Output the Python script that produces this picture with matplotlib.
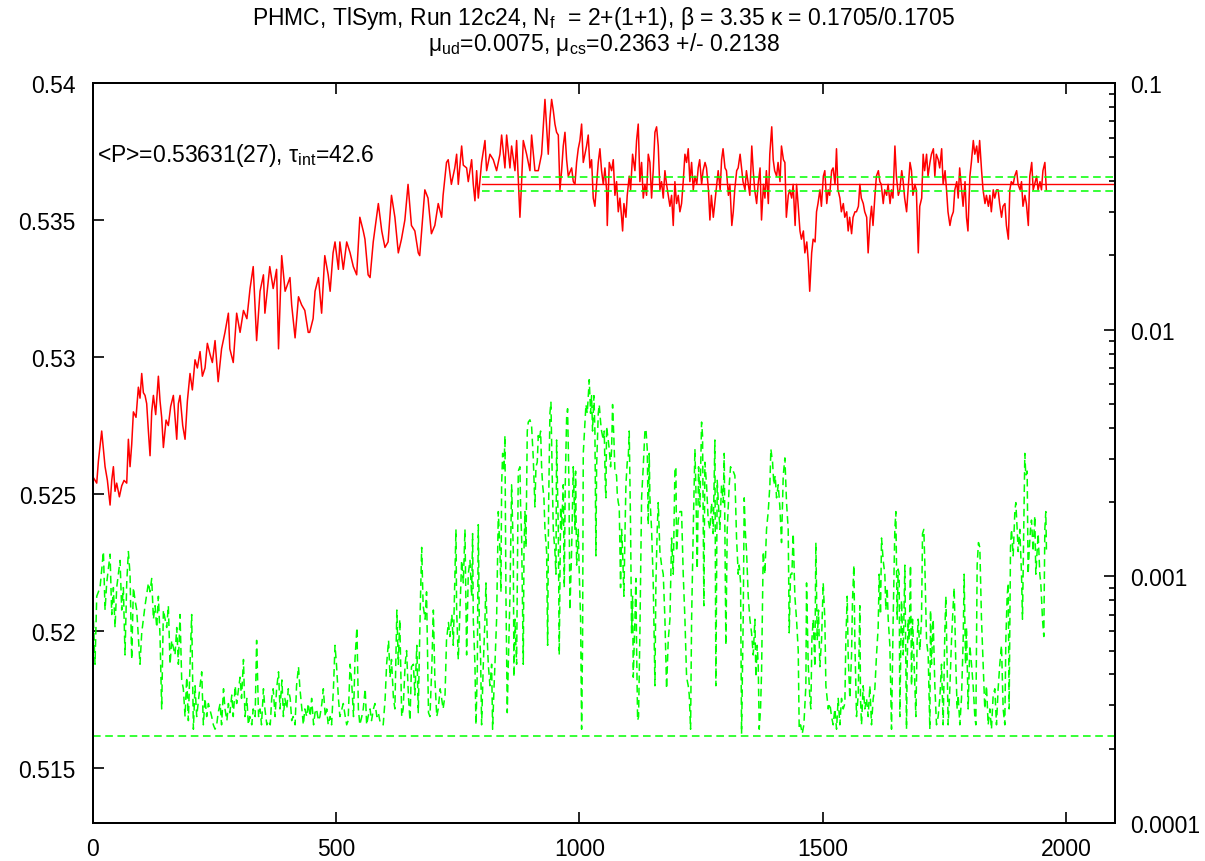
import numpy as np
import matplotlib
matplotlib.use('Agg')
import matplotlib.pyplot as plt
from matplotlib.ticker import FixedLocator, FixedFormatter, LogLocator, NullFormatter

plt.rcParams['font.family'] = ['Liberation Sans', 'DejaVu Sans']
plt.rcParams['font.size'] = 16.5
plt.rcParams['mathtext.fontset'] = 'custom'
plt.rcParams['mathtext.rm'] = 'Liberation Sans'
plt.rcParams['mathtext.it'] = 'Liberation Sans:italic'

# plaquette history (left axis)
red_x = [0, 1.7, 8.6, 12, 18.8, 25.7, 30.5, 36, 39.4, 42.8, 46.2, 49.6, 55.1, 59.9, 64.7, 70.2, 73.6, 77, 80.4, 83.9,
         89.3, 94.1, 97.5, 101, 104.4, 107.8, 111.2, 114.7, 118.1, 121.5, 125, 129.7, 135.2, 138.6, 142, 145.5, 151,
         155.7, 160.5, 166, 169.4, 172.9, 176.3, 179.7, 185.2, 190, 194.8, 200.2, 205, 210.5, 215.3, 220.8, 225.6, 231,
         235.8, 241.3, 246.1, 251.6,
         258, 265, 272, 279, 282, 289, 296, 303, 310, 317, 323.5, 330, 337, 344, 351, 354, 364, 371, 378, 382, 388.5,
         395.5, 405.5, 409, 416, 423, 429.5, 436, 443, 446, 453, 457, 464, 470.5, 477, 484, 488, 494,
         498, 505, 508, 515, 522, 529, 535.6, 542.5, 549, 556, 559.5, 566, 570, 576.5, 587, 594, 600.6, 607, 614, 621,
         628, 634.5, 641.5, 648, 655, 662, 669, 672, 682.5, 689, 696, 703, 710, 717, 720, 727, 730.5, 737, 744,
         747.8, 751.2, 758.1, 761.5, 768.3, 771.7, 775.2, 778.6, 782, 785.4, 788.9, 792.3, 799.1, 806, 809.4, 816.2,
         823.1, 829.9, 836.8, 840.2, 847, 850.5, 857.3, 860.7, 867.6, 871, 877.8, 881.3, 884.7, 891.5, 898.4, 901.8,
         908.6, 915.5, 922.3, 929.2, 932.6, 936, 939.4, 942.9, 946.3, 949.7, 953.1, 956.6, 960, 963.4, 966.8, 970.3,
         973.7, 977.1, 984, 987.4,
         990.8, 994.2, 997.6, 1001, 1004.5, 1007.9, 1011.3, 1014.7, 1018.1, 1021.6, 1025, 1028.4, 1031.8, 1035.3,
         1038.7, 1042.1, 1045.5, 1049, 1052.4, 1055.8, 1057.2, 1061.3, 1066.1, 1069.5, 1072.9, 1076.3, 1079.8, 1083.2,
         1086.6, 1088.7, 1091.4, 1095.5, 1098.2, 1102.3, 1105.1, 1109.2, 1114, 1117.4, 1120.8, 1124.2, 1127.7, 1131.1,
         1134.5, 1137.9, 1141.4, 1144.8, 1148.2, 1151.6, 1155.1, 1158.5, 1161.9, 1165.3, 1168.7, 1172.2, 1175.6, 1179,
         1182.4, 1185.9, 1189.3, 1192.7, 1196.1, 1199.5, 1203, 1206.4, 1209.8, 1213.2, 1216.7, 1220.1, 1223.5, 1226.9,
         1230.4, 1233.8, 1237.2,
         1241, 1244, 1247, 1251, 1254, 1258, 1261, 1265, 1268, 1271, 1275, 1278, 1282, 1285, 1289, 1292, 1295, 1299,
         1302, 1306, 1309, 1313, 1316, 1319, 1323, 1326, 1330, 1333, 1336, 1340, 1343, 1347, 1350, 1354, 1357, 1360,
         1364, 1367, 1371, 1374, 1378, 1381, 1384, 1388, 1391, 1395, 1398, 1401, 1405, 1408, 1412, 1415, 1419, 1422,
         1425, 1429, 1432, 1436, 1439, 1443, 1446, 1449, 1453, 1456, 1460, 1463, 1467, 1470, 1473, 1477, 1480, 1484,
         1487, 1490, 1494, 1497, 1501, 1504, 1508, 1511, 1514, 1518, 1521, 1525, 1528, 1531, 1535, 1538, 1542, 1545,
         1549, 1552, 1555, 1559, 1562, 1566, 1569, 1573, 1576, 1579, 1583, 1586, 1590, 1593, 1597, 1600, 1603, 1607,
         1610, 1614, 1617, 1620, 1624, 1627, 1631, 1634, 1638, 1641, 1644, 1648, 1651, 1655, 1658, 1662, 1665, 1668,
         1672, 1675, 1679, 1682, 1685, 1689, 1692, 1696, 1699, 1703, 1706, 1709, 1713, 1716, 1720, 1723, 1727, 1730,
         1733, 1737, 1740, 1744, 1747, 1751, 1754, 1757, 1761, 1764, 1768, 1771, 1775, 1778, 1781, 1785, 1788, 1792,
         1795, 1798, 1802, 1805, 1809, 1812, 1816, 1819, 1822, 1826, 1829, 1833, 1836, 1840, 1843, 1846, 1850, 1853,
         1857, 1860, 1863, 1867, 1870, 1874, 1877, 1881, 1884, 1887, 1891, 1894, 1898, 1901, 1905, 1908, 1911, 1915,
         1918, 1922, 1925, 1929, 1932, 1935, 1939, 1942, 1946, 1949, 1952, 1956, 1959]
red_y = [.5258, .5256, .5254, .5262, .5273, .5260, .5255, .5246, .5255, .5260, .5251, .5254, .5249, .5253, .5255,
         .5254, .5270, .5260, .5268, .5280, .5278, .5289, .5285, .5294, .5287, .5286, .5283, .5273, .5264, .5280,
         .5286, .5279, .5293, .5284, .5278, .5267, .5277, .5275, .5282, .5286, .5278, .5270, .5283, .5286, .5275,
         .5270, .5284, .5294, .5288, .5299, .5296, .5302, .5293, .5296, .5305, .5301, .5298, .5306,
         .5291, .5303, .5309, .5316, .5303, .5298, .5316, .5309, .5317, .5314, .5325, .5333, .5306, .5324, .5330,
         .5316, .5333, .5325, .5332, .5303, .5337, .5324, .5329, .5319, .5307, .5322, .5319, .5317, .5309, .5309,
         .5314, .5324, .5329, .5316, .5337, .5330, .5324, .5338,
         .5342, .5332, .5342, .5332, .5342, .5338, .5333, .5330, .5351, .5346, .5343, .5330, .5329, .5342, .5356,
         .5346, .5340, .5342, .5359, .5351, .5338, .5343, .5350, .5363, .5348, .5346, .5338, .5337, .5361, .5358,
         .5345, .5348, .5356, .5351, .5359, .5371, .5372, .5363, .5369,
         .5374, .5363, .5377, .5370, .5369, .5364, .5368, .5372, .5363, .5357, .5368, .5358, .5371, .5379, .5368,
         .5374, .5372, .5368, .5374, .5381, .5369, .5381, .5369, .5377, .5368, .5379, .5351, .5364, .5379, .5374,
         .5368, .5381, .5368, .5368, .5374, .5394, .5384, .5374, .5387, .5394, .5390, .5385, .5382, .5381, .5361,
         .5368, .5377, .5382, .5372, .5366, .5369, .5364,
         .5363, .5371, .5376, .5379, .5385, .5371, .5374, .5377, .5381, .5369, .5372, .5358, .5355, .5363, .5371,
         .5376, .5368, .5363, .5369, .5361, .5348, .5371, .5368, .5372, .5359, .5364, .5353, .5358, .5351, .5346,
         .5356, .5351, .5359, .5366, .5361, .5374, .5368, .5379, .5385, .5364, .5371, .5358, .5363, .5359, .5374,
         .5371, .5358, .5368, .5382, .5384, .5377, .5361, .5364, .5358, .5368, .5363, .5359, .5355, .5359, .5348,
         .5364, .5356, .5359, .5353, .5356, .5364, .5374, .5371, .5376, .5364, .5371, .5361, .5366,
         .5363, .5369, .5372, .5363, .5368, .5371, .5369, .5361, .5350, .5359, .5351, .5356, .5363, .5368, .5361,
         .5372, .5376, .5369, .5368, .5359, .5363, .5348, .5353, .5361, .5368, .5369, .5374, .5369, .5364, .5361,
         .5368, .5363, .5359, .5377, .5368, .5361, .5356, .5363, .5369, .5350, .5363, .5358, .5368, .5356, .5374,
         .5384, .5372, .5368, .5366, .5371, .5364, .5377, .5372, .5371, .5351, .5359, .5361, .5358, .5363, .5348,
         .5363, .5356, .5346, .5343, .5346, .5338, .5342, .5335, .5324, .5338, .5343, .5342,
         .5353, .5356, .5361, .5355, .5366, .5368, .5356, .5361, .5359, .5368, .5369, .5363, .5376, .5361, .5358,
         .5353, .5356, .5351, .5353, .5346, .5351, .5345, .5351, .5353, .5353, .5355, .5363, .5358, .5356, .5353,
         .5351, .5338, .5350, .5355, .5348, .5359, .5366, .5368, .5364, .5363, .5356, .5361, .5359, .5363, .5356,
         .5361, .5358, .5377, .5366, .5359, .5361, .5368, .5364, .5358, .5353, .5361, .5371, .5368, .5359, .5363,
         .5361, .5338, .5355, .5358, .5374, .5368, .5374, .5366, .5371, .5374, .5376, .5366,
         .5374, .5372, .5369, .5376, .5363, .5368, .5361, .5353, .5348, .5351, .5353, .5361, .5364, .5358, .5369,
         .5361, .5355, .5364, .5351, .5346, .5366, .5371, .5379, .5374, .5377, .5371, .5379, .5368, .5361, .5356,
         .5359, .5355, .5359, .5353, .5361, .5358, .5361, .5361, .5356, .5351, .5355, .5356, .5348, .5343, .5361,
         .5364, .5363, .5366, .5368, .5363, .5361, .5364, .5355, .5359, .5356, .5348, .5366, .5371, .5361, .5363,
         .5366, .5361, .5364, .5361, .5368, .5371, .5361]

# second observable (right log axis), in units of 1e-4
green_x = [0, 1.7, 5.1, 8.6, 15.4, 22.3, 25.7, 29.1, 36, 39.4, 42.8, 46.2, 49.6, 56.5, 59.9, 63.3, 66.7, 70.2, 73.6,
           77, 80.4, 83.9, 87.3, 90.7, 97.5, 101, 107.8, 114.7, 118.1, 121.5, 125, 128.4, 131.8, 135.2, 138.6, 142,
           145.5, 152.3, 155.7, 159.2, 162.6, 169.4, 172.9, 176.3, 179.7, 183.1, 186.5, 190, 193.4, 196.8, 200.2,
           203.6, 207.1, 210.5, 213.9, 220.8, 224.2, 227.6, 231, 234.4, 237.9, 244.7, 248.1, 251.6,
           255, 258, 262, 265, 269, 272, 276, 279, 282, 286, 289, 293, 296, 300, 303, 306, 310, 313, 317, 320, 323,
           327, 330, 334, 337, 341, 344, 347, 351, 354, 358, 361, 365, 368, 371, 375, 378, 382, 385, 389, 392, 395,
           399, 402, 406, 409, 412, 416, 419, 423, 426, 430, 433, 436, 440, 443, 447, 450, 454, 457, 460, 464, 467,
           471, 474, 478, 481, 484, 488, 491, 495, 498,
           501, 505, 508, 512, 515, 519, 522, 525, 529, 532, 536, 539, 543, 546, 549, 553, 556, 560, 563, 566, 570,
           573, 577, 580, 584, 587, 590, 594, 597, 601, 604, 608, 611, 614, 618, 621, 625, 628, 631, 635, 638, 642,
           645, 649, 652, 655, 659, 662, 666, 669, 673, 676, 679, 683, 686, 690, 693, 697, 700, 703, 707, 710, 714,
           717, 720, 724, 727, 731, 734, 738, 741, 744,
           746.4, 747.8, 751.2, 754.6, 758.1, 761.5, 764.9, 768.3, 771.7, 775.2, 778.6, 780.6, 782, 785.4, 787.5,
           790.2, 792.3, 794.3, 797.1, 799.1, 802.6, 806, 808, 810.8, 812.8, 816.2, 819.7, 821.7, 824.5, 826.5,
           829.9, 833.4, 836.8, 838.8, 840.2, 842.3, 845, 847, 849.1, 851.8, 853.9, 857.3, 860.7, 864.2, 865.5,
           867.6, 871, 874.4, 877.8, 879.2, 881.3, 884.7, 886.1, 888.1, 890.2, 892.9, 895, 898.4, 901.8, 905.2,
           908.6, 910.7, 913.4, 915.5, 917.5, 920.3, 922.3, 924.4, 927.1, 929.2, 932.6, 934.7, 936.7, 939.4, 941.5,
           943.6, 946.3, 949.7, 951.8, 953.1, 956.6, 958.6, 961.4, 963.4, 966.8, 968.9, 970.9, 973.7, 975.7, 978.5,
           980.5, 983.9, 987.4, 990.8,
           992.1, 994.2, 995.6, 997.6, 999.7, 1002.4, 1004.5, 1006.5, 1007.9, 1011.3, 1013.4, 1016.1, 1020.2, 1022.9,
           1025, 1027, 1029.8, 1031.8, 1033.9, 1035.3, 1038.7, 1040.7, 1043.5, 1045.5, 1049, 1051, 1053.1, 1054.4,
           1055.8, 1059.2, 1061.3, 1064, 1066.1, 1068.1, 1070.9, 1072.9, 1076.3, 1077.7, 1079.8, 1081.8, 1084.5,
           1086.6, 1088.7, 1091.4, 1093.4, 1095.5, 1098.2, 1100.3, 1102.3, 1105.1, 1107.1, 1109.2, 1110.6, 1114,
           1116, 1117.4, 1119.5, 1121.5, 1124.2, 1127.7, 1131.1, 1134.5, 1136.6, 1139.3, 1141.4, 1143.4, 1144.8,
           1148.2, 1151.6, 1155.1, 1157.1, 1159.8, 1161.9, 1165.3, 1168.7, 1172.2, 1175.6, 1179, 1182.4, 1185.9,
           1189.3, 1192.7, 1196.1, 1198.2, 1199.5, 1203, 1206.4, 1209.8, 1213.2, 1216.7, 1220.1, 1223.5, 1225.6,
           1228.3, 1230.4, 1233.8, 1237.2,
           1239.2, 1242, 1244.7, 1247.4, 1250.9, 1252.9, 1255.6, 1257.7, 1261.1, 1264.5, 1268, 1271.4, 1274.8,
           1278.2, 1280.3, 1283, 1285.8, 1288.5, 1291.9, 1295.4, 1297.4, 1299.5, 1300.8, 1303.6, 1307.7, 1310.4,
           1313.1, 1315.9, 1319.3, 1322.7, 1326.2, 1328.2, 1331, 1333, 1336.4, 1338.5, 1340.5, 1343.3, 1346.7,
           1350.1, 1353.5, 1357, 1360.4, 1362.4, 1365.2, 1367.2, 1369.3, 1372, 1374.1, 1377.5, 1380.9, 1384.3,
           1387.8, 1391.2, 1393.2, 1396.7, 1399.4, 1402.1, 1404.9, 1408.3, 1411.7, 1415.1, 1418.6, 1422, 1425.4,
           1428.8, 1430.9, 1433.6, 1436.4, 1439.1, 1442.5, 1445.9, 1449.4, 1451.4, 1454.2, 1457.6, 1461, 1465.1,
           1466.5, 1469.9, 1473.3, 1475.4, 1477.4, 1480.2, 1483.6,
           1485.6, 1488.4, 1491.1, 1493.8, 1497.3, 1500.7, 1504.1, 1506.2, 1508.9, 1511, 1514.4, 1517.8, 1521.2,
           1524.6, 1528.1, 1531.5, 1534.9, 1538.3, 1541.8, 1545.2, 1547.2, 1550, 1552, 1555.4, 1558.9, 1560.9,
           1563.7, 1565.7, 1569.1, 1572.6, 1576, 1577.3, 1579.4, 1582.8, 1586.2, 1589.7, 1593.1, 1596.5, 1599.9,
           1603.4, 1606.8, 1610.2, 1613.6, 1615.7, 1618.4, 1620.5, 1623.9, 1627.3, 1629.4, 1632.1, 1634.2, 1637.6,
           1641, 1644.4, 1647.8, 1649.9, 1652.6, 1654.7, 1656.7, 1658.1, 1661.5, 1665, 1668.4, 1671.8, 1673.2,
           1675.2, 1677.3, 1680, 1682.1, 1684.1, 1686.9, 1691, 1693.7, 1695.8, 1699.2, 1702.6, 1704.7, 1707.4,
           1709.5, 1712.9, 1716.3, 1719.7, 1721.1, 1723.1, 1726.6, 1730,
           1733.4, 1736.8, 1740.2, 1743.7, 1747.1, 1750.5, 1752.6, 1755.3, 1757.3, 1760.8, 1764.2, 1767.6, 1769.7,
           1773.1, 1775.8, 1777.9, 1781.3, 1784.7, 1788.2, 1790.2, 1793, 1795, 1798.4, 1801.8, 1805.3, 1808.7,
           1812.1, 1814.2, 1816.9, 1819.6, 1822.4, 1825.8, 1829.2, 1832.6, 1836.1, 1839.5, 1842.9, 1846.3, 1849.8,
           1853.2, 1856.6, 1860, 1863.4, 1866.9, 1870.3, 1873.7, 1875.8, 1878.5, 1880.6, 1882.6, 1885.4, 1887.4,
           1890.9, 1894.3, 1896.3, 1899.1, 1901.1, 1904.5, 1908, 1910, 1912.7, 1914.8, 1916.8, 1919.6, 1921.6,
           1923.7, 1926.4, 1928.5, 1931.9, 1935.3, 1937.4, 1940.1, 1942.2, 1945.6, 1947.6, 1951.1, 1953.8, 1955.9,
           1957.9, 1959.3]
green_e4 = [8.3, 6.7, 4.4, 8.3, 9.0, 12.6, 7.3, 9.4, 12.3, 7.0, 9.0, 6.2, 9.0, 11.6, 7.3, 9.0, 4.8, 9.4, 12.6, 10.2,
            4.6, 9.0, 8.0, 7.3, 4.4, 5.9, 7.6, 9.4, 8.65, 9.8, 6.7, 7.6, 6.2, 8.3, 5.7, 2.9, 7.3, 6.2, 7.6, 4.4, 5.5,
            4.8, 6.2, 4.4, 7.0, 3.8, 3.5, 2.7, 3.9, 2.6, 4.4, 7.0, 2.4, 3.6, 2.7, 3.6, 4.1, 2.5, 3.2, 2.7, 3.05, 2.7,
            2.5, 2.4,
            2.5, 2.8, 3.05, 2.5, 3.5, 2.9, 2.6, 3.05, 2.8, 3.3, 2.7, 3.6, 3.05, 3.5, 3.9, 3.2, 4.6, 2.7, 3.2, 2.5,
            2.7, 2.5, 2.9, 2.7, 5.5, 2.7, 2.9, 2.5, 3.5, 2.9, 2.5, 2.6, 2.5, 3.2, 3.5, 2.7, 3.5, 4.1, 2.9, 3.8, 2.7,
            3.2, 2.9, 3.5, 3.2, 2.6, 2.7, 2.5, 3.6, 4.3, 3.5, 2.9, 2.5, 2.9, 2.7, 3.05, 2.7, 3.2, 2.5, 2.8, 2.9, 2.6,
            2.7, 3.05, 3.5, 2.7, 2.9, 2.5, 2.7, 2.5, 3.6, 5.25,
            4.4, 3.2, 2.7, 2.9, 3.05, 2.7, 2.5, 2.6, 4.4, 3.8, 2.7, 4.6, 6.2, 2.9, 2.5, 2.7, 2.9, 3.5, 2.5, 2.7, 2.9,
            2.6, 2.9, 3.05, 2.7, 2.8, 2.6, 2.5, 2.5, 3.2, 4.4, 5.5, 3.9, 4.6, 3.2, 2.9, 7.3, 4.4, 6.7, 2.7, 2.9, 4.4,
            5.0, 3.2, 2.6, 4.3, 4.4, 3.3, 5.25, 2.8, 7.3, 13.1, 7.6, 6.7, 8.65, 2.8, 2.7, 4.4, 7.3, 3.9, 2.7, 2.9,
            3.5, 3.2, 2.9, 3.3, 5.5, 6.5, 5.7, 7.0, 5.25, 9.8,
            15.5, 7.3, 4.6, 7.3, 11.6, 9.4, 15.5, 4.8, 10.2, 11.6, 8.3, 14.9, 6.7, 4.4, 2.5, 4.1, 16.2, 6.7, 4.6, 2.5,
            4.4, 6.7, 9.4, 5.5, 4.4, 3.6, 4.4, 2.4, 3.5, 4.4, 6.7, 18.3, 12.6, 8.65, 23.5, 31.5, 26.7, 37.2, 8.3, 2.8,
            4.4, 8.3, 23.5, 12.6, 3.9, 6.7, 4.4, 26.7, 27.8, 19.1, 14.3, 4.4, 12.6, 18.3, 13.1, 38.8, 42.2, 43.1,
            40.5, 30.2, 19.1, 27.8, 29.0, 37.2, 35.7, 38.8, 27.8, 23.5, 20.8, 15.5, 12.6, 5.25, 19.1, 45.8, 50.8,
            29.0, 15.5, 12.6, 10.2, 35.7, 15.5, 4.8, 19.1, 15.5, 23.5, 9.0, 23.5, 43.9, 47.8, 23.5, 7.3, 12.6, 27.8,
            15.5,
            26.7, 11.1, 12.1, 15.5, 10.2, 6.7, 2.4, 5.5, 31.5, 42.2, 49.7, 45.8, 62.7, 45.8, 54, 38.8, 54, 38.8, 12.1,
            27.8, 45.8, 49.7, 42.2, 38.8, 35.7, 38.8, 23.5, 20.8, 40.5, 35.7, 32.8, 27.8, 32.8, 49.7, 35.7, 26.7,
            25.6, 21.6, 19.9, 19.1, 9.0, 15.5, 12.6, 8.3, 14.3, 23.5, 29.0, 30.2, 38.8, 15.5, 5.9, 8.3, 3.9, 6.7, 9.8,
            5.25, 2.6, 2.7, 5.9, 20.8, 27.8, 38.8, 39.6, 32.8, 16.2, 31.5, 20.8, 15.5, 9.4, 3.6, 9.4, 15.5, 19.9,
            12.6, 11.1, 10.2, 6.7, 3.5, 5.5, 6.7, 14.3, 10.2, 26.7, 27.8, 12.6, 16.9, 18.3, 18.3, 10.2, 6.7, 3.9, 3.6,
            3.3, 2.4, 6.7, 15.5, 32.8,
            22.6, 10.7, 27.8, 19.1, 42.2, 37.2, 7.6, 29.0, 23.5, 16.9, 15.5, 19.9, 14.9, 35.7, 3.6, 24.5, 19.1, 15.5,
            23.5, 19.9, 31.5, 10.2, 5.25, 15.5, 23.5, 27.8, 26.7, 26.7, 25.6, 14.3, 10.2, 11.1, 9.4, 2.3, 6.7, 20.8,
            15.5, 12.6, 8.3, 6.7, 5.9, 4.8, 6.7, 3.9, 5.25, 4.4, 2.4, 2.9, 4.1, 12.6, 10.2, 15.5, 18.3, 23.5, 32.8,
            29.0, 23.5, 25.6, 20.8, 23.5, 19.1, 13.7, 25.6, 30.2, 19.9, 15.5, 5.9, 10.2, 10.2, 14.9, 8.3, 6.7, 5.0,
            2.4, 2.5, 2.3, 2.5, 3.6, 9.4, 4.4, 3.2, 2.9, 5.5, 6.7, 4.3,
            13.7, 5.5, 7.3, 4.3, 5.5, 9.4, 6.7, 3.6, 3.2, 2.9, 3.05, 2.7, 2.5, 2.9, 2.4, 3.2, 2.5, 3.2, 2.9, 3.05,
            5.5, 8.3, 4.8, 3.2, 4.8, 8.0, 11.1, 5.5, 2.7, 3.3, 7.6, 3.2, 2.5, 3.6, 2.9, 3.2, 2.7, 3.6, 2.5, 3.2, 3.5,
            4.8, 6.2, 10.2, 7.0, 14.3, 11.6, 10.2, 7.3, 9.0, 6.7, 5.25, 2.4, 6.7, 15.5, 18.3, 6.7, 10.7, 10.2, 2.7,
            8.0, 4.8, 11.1, 2.4, 4.4, 6.7, 5.5, 11.1, 3.6, 6.7, 4.8, 2.7, 5.5, 6.7, 5.0, 6.7, 14.9, 15.5, 11.1, 5.5,
            4.8, 2.4, 7.3, 4.4, 6.7, 3.6,
            2.5, 2.7, 3.2, 4.4, 2.5, 5.9, 8.3, 4.4, 2.5, 3.5, 5.5, 7.6, 9.0, 4.4, 2.9, 3.3, 2.5, 3.2, 5.5, 10.2, 4.4,
            6.2, 2.9, 5.25, 4.4, 3.6, 2.7, 2.5, 11.1, 13.7, 13.1, 6.7, 4.4, 2.9, 3.6, 2.5, 2.9, 2.4, 3.3, 3.5, 2.5,
            3.5, 4.4, 5.25, 2.9, 2.5, 5.5, 8.3, 9.4, 2.9, 13.1, 15.5, 12.1, 18.3, 19.9, 15.5, 12.6, 15.5, 10.2, 6.7,
            15.5, 31.5, 25.6, 26.7, 10.2, 12.6, 15.5, 16.9, 12.6, 17.6, 10.2, 12.6, 14.9, 10.2, 9.4, 6.7, 5.7, 15.5,
            18.3, 12.6]

plaq_mean = 0.53631
plaq_err = 0.00027
fit_start = 800
green_floor = 2.25e-4

x_ticks = [0, 500, 1000, 1500, 2000]
y_ticks = [0.515, 0.52, 0.525, 0.53, 0.535, 0.54]
y_labels = ['0.515', '0.52', '0.525', '0.53', '0.535', '0.54']
y2_ticks = [1e-4, 1e-3, 1e-2, 1e-1]
y2_labels = ['0.0001', '0.001', '0.01', '0.1']

green_y = np.array(green_e4) * 1e-4

fig = plt.figure(figsize=(12.05, 8.62), dpi=100)
ax = fig.add_axes([0.0768, 0.0441, 0.8485, 0.8585])
ax2 = ax.twinx()

green = '#00ff00'
dash = (0, (5, 3))

ax.plot(red_x, red_y, color='#ff0000', lw=1.1, zorder=3)
ax.plot([fit_start, 2100], [plaq_mean, plaq_mean], color='#ff0000', lw=1.0, zorder=4)
ax.plot([fit_start, 2100], [plaq_mean + plaq_err] * 2, color=green, lw=1.1, ls=dash, zorder=4)
ax.plot([fit_start, 2100], [plaq_mean - plaq_err] * 2, color=green, lw=1.1, ls=dash, zorder=4)

ax2.plot(green_x, green_y, color=green, lw=1.1, ls=dash)
ax2.plot([0, 2100], [green_floor, green_floor], color=green, lw=1.1, ls=dash)

ax.set_xlim(0, 2100)
ax.set_ylim(0.513, 0.54)
ax2.set_yscale('log')
ax2.set_ylim(1e-4, 0.1)

ax.xaxis.set_major_locator(FixedLocator(x_ticks))
ax.yaxis.set_major_locator(FixedLocator(y_ticks))
ax.yaxis.set_major_formatter(FixedFormatter(y_labels))
ax2.yaxis.set_major_locator(FixedLocator(y2_ticks))
ax2.yaxis.set_major_formatter(FixedFormatter(y2_labels))
ax2.yaxis.set_minor_locator(LogLocator(base=10, subs=np.arange(2, 10)))
ax2.yaxis.set_minor_formatter(NullFormatter())

ax.tick_params(axis='x', direction='in', top=True, length=8, width=1.2, pad=10)
ax.tick_params(axis='y', direction='in', right=False, length=8, width=1.2, pad=12)
ax2.tick_params(axis='y', which='major', direction='in', length=8, width=1.2, pad=11)
ax2.tick_params(axis='y', which='minor', direction='in', length=4, width=1.2)
for sp in ax.spines.values():
    sp.set_linewidth(1.4)
for sp in ax2.spines.values():
    sp.set_linewidth(1.4)

ax.text(0.0044, 0.904, '<P>=0.53631(27), τ$_{\\rm int}$=42.6', transform=ax.transAxes,
        ha='left', va='center', zorder=6)

fig.text(0.501, 0.979, 'PHMC, TlSym, Run 12c24, N$_{\\rm f}$  = 2+(1+1), β = 3.35 κ = 0.1705/0.1705',
         ha='center', va='center')
fig.text(0.501, 0.948, 'μ$_{\\rm ud}$=0.0075, μ$_{\\rm cs}$=0.2363 +/- 0.2138', ha='center', va='center')

fig.savefig('out.png', dpi=100)
